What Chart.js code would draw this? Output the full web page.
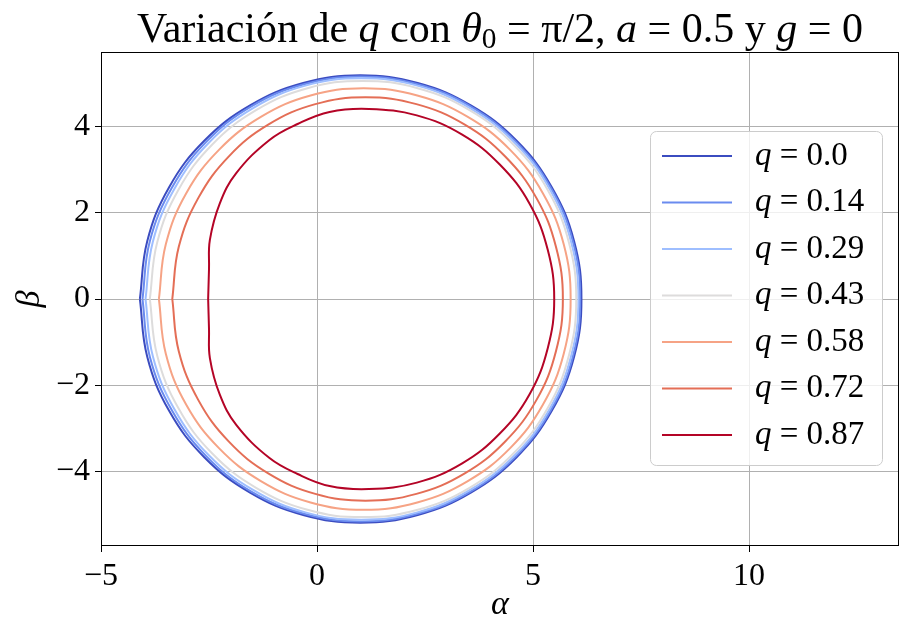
<!DOCTYPE html>
<html>
<head>
<meta charset="utf-8">
<script src="https://cdn.jsdelivr.net/npm/chart.js@4.4.1/dist/chart.umd.min.js"></script>
<style>
  body { margin: 0; background: #fff; }
  canvas { display: block; }
</style>
</head>
<body>
<canvas id="shadowChart" width="912" height="635"></canvas>
<script>
// ============================================
// Data (alpha, beta pairs, one closed loop per q)
// ============================================
const qLabels = ['0.0', '0.14', '0.29', '0.43', '0.58', '0.72', '0.87'];
const qColors = ['#3b4cc0', '#6a8bef', '#9ebeff', '#dddcdc', '#f6a385', '#e46e56', '#b40426'];

const curveQ000 = [[-4.10, 0], [-3.93, 1.34], [-3.42, 2.60], [-2.61, 3.67], [-1.55, 4.49], [-0.32, 5.01], [1.00, 5.19],
    [2.33, 5.01], [3.56, 4.49], [4.62, 3.67], [5.43, 2.60], [5.95, 1.34], [6.12, 0], [5.95, -1.34], [5.43, -2.60],
    [4.62, -3.67], [3.56, -4.49], [2.33, -5.01], [1.00, -5.19], [-0.32, -5.01], [-1.55, -4.49], [-2.61, -3.67],
    [-3.42, -2.60], [-3.93, -1.34], [-4.10, 0]];
const curveQ014 = [[-4.04, 0], [-3.87, 1.34], [-3.36, 2.58], [-2.56, 3.65], [-1.52, 4.47], [-0.30, 4.98], [1.01, 5.16],
    [2.33, 4.98], [3.55, 4.47], [4.60, 3.65], [5.41, 2.58], [5.92, 1.34], [6.09, 0], [5.92, -1.34], [5.41, -2.58],
    [4.60, -3.65], [3.55, -4.47], [2.33, -4.98], [1.01, -5.16], [-0.30, -4.98], [-1.52, -4.47], [-2.56, -3.65],
    [-3.36, -2.58], [-3.87, -1.34], [-4.04, 0]];
const curveQ029 = [[-3.97, 0], [-3.80, 1.33], [-3.30, 2.56], [-2.51, 3.62], [-1.48, 4.43], [-0.27, 4.95], [1.02, 5.12],
    [2.32, 4.95], [3.54, 4.43], [4.58, 3.62], [5.38, 2.56], [5.88, 1.33], [6.05, 0], [5.88, -1.33], [5.38, -2.56],
    [4.58, -3.62], [3.54, -4.43], [2.32, -4.95], [1.02, -5.12], [-0.27, -4.95], [-1.48, -4.43], [-2.51, -3.62],
    [-3.30, -2.56], [-3.80, -1.33], [-3.97, 0]];
const curveQ043 = [[-3.87, 0], [-3.70, 1.31], [-3.21, 2.53], [-2.43, 3.58], [-1.41, 4.38], [-0.22, 4.89], [1.05, 5.06],
    [2.33, 4.89], [3.53, 4.38], [4.55, 3.58], [5.34, 2.53], [5.83, 1.31], [6.00, 0], [5.83, -1.31], [5.34, -2.53],
    [4.55, -3.58], [3.53, -4.38], [2.33, -4.89], [1.05, -5.06], [-0.22, -4.89], [-1.41, -4.38], [-2.43, -3.58],
    [-3.21, -2.53], [-3.70, -1.31], [-3.87, 0]];
const curveQ058 = [[-3.66, 0], [-3.50, 1.27], [-3.03, 2.45], [-2.27, 3.46], [-1.29, 4.23], [-0.15, 4.72], [1.08, 4.89],
    [2.32, 4.72], [3.48, 4.23], [4.47, 3.46], [5.23, 2.45], [5.71, 1.27], [5.87, 0], [5.71, -1.27], [5.23, -2.45],
    [4.47, -3.46], [3.48, -4.23], [2.32, -4.72], [1.08, -4.89], [-0.15, -4.72], [-1.29, -4.23], [-2.27, -3.46],
    [-3.03, -2.45], [-3.50, -1.27], [-3.66, 0]];
const curveQ072 = [[-3.35, 0], [-3.20, 1.21], [-2.75, 2.34], [-2.04, 3.31], [-1.12, 4.05], [-0.04, 4.52], [1.12, 4.68],
    [2.30, 4.52], [3.41, 4.05], [4.35, 3.31], [5.08, 2.34], [5.53, 1.21], [5.69, 0], [5.53, -1.21], [5.08, -2.34],
    [4.35, -3.31], [3.41, -4.05], [2.30, -4.52], [1.12, -4.68], [-0.04, -4.52], [-1.12, -4.05], [-2.04, -3.31],
    [-2.75, -2.34], [-3.20, -1.21], [-3.35, 0]];
const curveQ087 = [[-2.52, 0], [-2.50, 0.70], [-2.48, 1.37], [-2.25, 2.22], [-1.87, 2.92], [-1.10, 3.69], [-0.45, 4.06],
    [0.29, 4.34], [1.20, 4.41], [2.31, 4.26], [3.35, 3.82], [4.23, 3.12], [4.92, 2.21], [5.34, 1.14], [5.49, 0],
    [5.34, -1.14], [4.92, -2.21], [4.23, -3.12], [3.35, -3.82], [2.31, -4.26], [1.20, -4.41], [0.29, -4.34],
    [-0.45, -4.06], [-1.10, -3.69], [-1.87, -2.92], [-2.25, -2.22], [-2.48, -1.37], [-2.50, -0.70], [-2.52, 0]];

const curves = [curveQ000, curveQ014, curveQ029, curveQ043, curveQ058, curveQ072, curveQ087];

const xTicks = [-5, 0, 5, 10];
const yTicks = [-4, -2, 0, 2, 4];
const xRange = [-5.0, 13.47];
const yRange = [-5.73, 5.73];

// ============================================
// Text helpers (mixed upright / italic runs)
// ============================================
const SERIF = '"Liberation Serif", "DejaVu Serif", serif';

function runFont(run, size) {
    const s = run.sub ? size * 0.7 : size;
    return (run.italic ? 'italic ' : '') + s + 'px ' + SERIF;
}

function drawRuns(ctx, runs, x, y, size, align) {
    let total = 0;
    runs.forEach(run => {
        ctx.font = runFont(run, size);
        run.w = ctx.measureText(run.t).width;
        total += run.w;
    });
    let cx = align === 'center' ? x - total / 2 : x;
    ctx.textAlign = 'left';
    ctx.textBaseline = 'middle';
    runs.forEach(run => {
        ctx.font = runFont(run, size);
        ctx.fillText(run.t, cx, run.sub ? y + size * 0.22 : y);
        cx += run.w;
    });
}

const titleRuns = [
    { t: 'Variación de ' }, { t: 'q', italic: true }, { t: ' con ' },
    { t: 'θ', italic: true }, { t: '0', sub: true }, { t: ' = π/2, ' },
    { t: 'a', italic: true }, { t: ' = 0.5 y ' }, { t: 'g', italic: true }, { t: ' = 0' }
];

// ============================================
// Make sure the curved segments get their bezier control points
// ============================================
const smoothPlugin = {
    id: 'smooth',
    beforeDatasetsDraw(chart) {
        chart.getSortedVisibleDatasetMetas().forEach(meta => {
            if (meta.dataset && meta.dataset.updateControlPoints) {
                meta.dataset.updateControlPoints(chart.chartArea, 'x');
            }
        });
    }
};

// ============================================
// Overlay plugin: frame, title, axis labels, legend
// ============================================
const overlayPlugin = {
    id: 'overlay',
    afterDraw(chart) {
        const ctx = chart.ctx;
        const area = chart.chartArea;
        ctx.save();

        // axes frame
        ctx.strokeStyle = '#000';
        ctx.lineWidth = 1;
        ctx.strokeRect(area.left + 0.5, area.top + 0.5, area.right - area.left - 1, area.bottom - area.top - 1);

        ctx.fillStyle = '#000';
        drawRuns(ctx, titleRuns, (area.left + area.right) / 2, 31, 42, 'center');

        // axis labels
        drawRuns(ctx, [{ t: 'α', italic: true }], (area.left + area.right) / 2, 605, 34, 'center');
        ctx.save();
        ctx.translate(30, (area.top + area.bottom) / 2);
        ctx.rotate(-Math.PI / 2);
        drawRuns(ctx, [{ t: 'β', italic: true }], 0, 0, 34, 'center');
        ctx.restore();

        // legend
        const box = { x: 650, y: 131, w: 232, h: 334 };
        ctx.beginPath();
        ctx.roundRect(box.x + 0.5, box.y + 0.5, box.w, box.h, 6);
        ctx.fillStyle = 'rgba(255,255,255,0.8)';
        ctx.fill();
        ctx.strokeStyle = '#cccccc';
        ctx.lineWidth = 1;
        ctx.stroke();

        chart.data.datasets.forEach((ds, i) => {
            const y = 156 + i * 46.5;
            ctx.beginPath();
            ctx.moveTo(662, y);
            ctx.lineTo(732, y);
            ctx.strokeStyle = ds.borderColor;
            ctx.lineWidth = 2;
            ctx.stroke();
            ctx.fillStyle = '#000';
            drawRuns(ctx, [{ t: 'q', italic: true }, { t: ' = ' + qLabels[i] }], 755, y, 33, 'left');
        });

        ctx.restore();
    }
};

function formatTick(v) {
    return v < 0 ? '\u2212' + Math.abs(v) : String(v);
}

// ============================================
// Build chart
// ============================================
const datasets = curves.map((pts, i) => ({
    label: 'q = ' + qLabels[i],
    data: pts.map(p => ({ x: p[0], y: p[1] })),
    fill: false,
    borderColor: qColors[i],
    borderWidth: 2,
    pointRadius: 0,
    tension: 0.4,
    cubicInterpolationMode: 'default',
    order: 7 - i
}));

new Chart(document.getElementById('shadowChart'), {
    type: 'line',
    data: { datasets },
    options: {
        responsive: false,
        animation: false,
        parsing: true,
        layout: { padding: { left: 0, right: 13, top: 52, bottom: 0 } },
        elements: { line: { tension: 0.4, capBezierPoints: false } },
        plugins: {
            legend: { display: false },
            title: { display: false },
            tooltip: { enabled: false }
        },
        scales: {
            x: {
                type: 'linear',
                min: xRange[0],
                max: xRange[1],
                afterBuildTicks: scale => { scale.ticks = xTicks.map(v => ({ value: v })); },
                afterFit: scale => { scale.height = 89; },
                grid: { color: '#b0b0b0', lineWidth: 1, tickColor: '#000', tickLength: 6 },
                border: { display: false },
                ticks: {
                    color: '#000',
                    padding: 5,
                    maxRotation: 0,
                    font: { family: SERIF, size: 32 },
                    callback: formatTick
                }
            },
            y: {
                type: 'linear',
                min: yRange[0],
                max: yRange[1],
                afterBuildTicks: scale => { scale.ticks = yTicks.map(v => ({ value: v })); },
                afterFit: scale => { scale.width = 101; },
                grid: { color: '#b0b0b0', lineWidth: 1, tickColor: '#000', tickLength: 6 },
                border: { display: false },
                ticks: {
                    color: '#000',
                    padding: 5,
                    font: { family: SERIF, size: 32 },
                    callback: formatTick
                }
            }
        }
    },
    plugins: [smoothPlugin, overlayPlugin]
});
</script>
</body>
</html>
